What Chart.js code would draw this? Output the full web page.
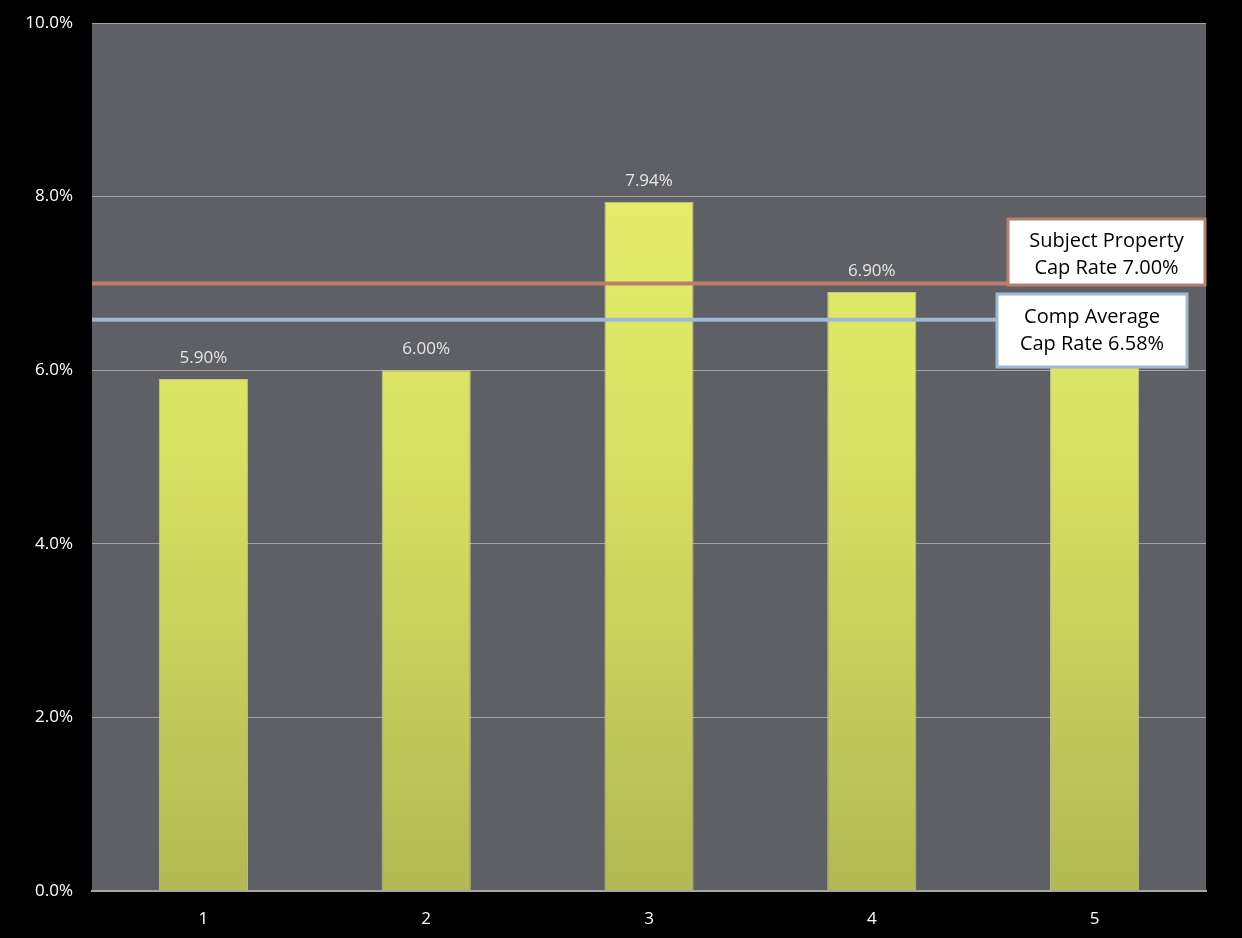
<!DOCTYPE html>
<html>
<head>
<meta charset="utf-8">
<script src="https://cdn.jsdelivr.net/npm/chart.js@4.4.1/dist/chart.umd.min.js"></script>
<style>
  html, body { margin: 0; padding: 0; background: #000; }
  #wrap { width: 1242px; height: 938px; }
</style>
</head>
<body>
<div id="wrap"><canvas id="capChart" width="1242" height="938"></canvas></div>
<script>
// ---- data ----
const comps = ['1', '2', '3', '4', '5'];
const capRates = [5.90, 6.00, 7.94, 6.90, 6.16];
const yTicks = [0, 2, 4, 6, 8, 10];
const subjectRate = 7.00;
const compAverage = 6.58;
const subjectLabel = ['Subject Property', 'Cap Rate 7.00%'];
const averageLabel = ['Comp Average', 'Cap Rate 6.58%'];

const FONT = '"Open Sans", "Liberation Sans", sans-serif';

// gray plot background + black canvas
const backdrop = {
    id: 'backdrop',
    beforeDraw(chart) {
        const { ctx, chartArea: a } = chart;
        ctx.save();
        ctx.fillStyle = '#000';
        ctx.fillRect(0, 0, chart.width, chart.height);
        ctx.fillStyle = '#5f6066';
        ctx.fillRect(a.left, a.top, a.right - a.left, a.bottom - a.top);
        ctx.restore();
    }
};

// value labels above bars
const valueLabels = {
    id: 'valueLabels',
    afterDatasetsDraw(chart) {
        const { ctx } = chart;
        const meta = chart.getDatasetMeta(0);
        ctx.save();
        ctx.fillStyle = '#e6e6e6';
        ctx.font = '17px ' + FONT;
        ctx.textAlign = 'center';
        ctx.textBaseline = 'middle';
        meta.data.forEach((bar, i) => {
            ctx.fillText(capRates[i].toFixed(2) + '%', bar.x, bar.y - 21);
        });
        ctx.restore();
    }
};

// reference lines + callout boxes
function callout(ctx, x, y, w, h, border, lines, y1, y2) {
    ctx.fillStyle = '#fff';
    ctx.fillRect(x, y, w, h);
    ctx.strokeStyle = border;
    ctx.lineWidth = 3;
    ctx.strokeRect(x, y, w, h);
    ctx.fillStyle = '#000';
    ctx.font = '20px ' + FONT;
    ctx.textAlign = 'center';
    ctx.textBaseline = 'middle';
    ctx.fillText(lines[0], x + w / 2, y1);
    ctx.fillText(lines[1], x + w / 2, y2);
}

const refLines = {
    id: 'refLines',
    afterDraw(chart) {
        const { ctx, chartArea: a, scales: { y } } = chart;
        const ySub = y.getPixelForValue(subjectRate);
        const yAvg = y.getPixelForValue(compAverage);
        ctx.save();
        ctx.lineWidth = 4;
        ctx.strokeStyle = '#b97f6c';
        ctx.beginPath();
        ctx.moveTo(a.left, ySub);
        ctx.lineTo(1008, ySub);
        ctx.stroke();
        ctx.strokeStyle = '#9db8d3';
        ctx.beginPath();
        ctx.moveTo(a.left, yAvg);
        ctx.lineTo(997, yAvg);
        ctx.stroke();
        callout(ctx, 1008, 219, 197, 66, '#b97f6c', subjectLabel, 241, 268);
        callout(ctx, 997, 294, 190, 73, '#9db8d3', averageLabel, 317, 344);
        ctx.restore();
    }
};

const ctx = document.getElementById('capChart').getContext('2d');
new Chart(ctx, {
    type: 'bar',
    data: {
        labels: comps,
        datasets: [{
            data: capRates,
            backgroundColor: (c) => {
                const area = c.chart.chartArea;
                if (!area) return '#d8e060';
                const g = c.chart.ctx.createLinearGradient(0, area.top, 0, area.bottom);
                g.addColorStop(0, '#ecf56f');
                g.addColorStop(0.5, '#d8e062');
                g.addColorStop(1, '#b3b953');
                return g;
            },
            borderColor: 'rgba(235,240,160,0.7)',
            borderWidth: 1,
            barPercentage: 0.8,
            categoryPercentage: 0.5
        }]
    },
    options: {
        responsive: false,
        animation: false,
        layout: { padding: { left: 0, top: 23, right: 36, bottom: 0 } },
        plugins: {
            legend: { display: false },
            tooltip: { enabled: false }
        },
        scales: {
            x: {
                grid: { display: false },
                border: { color: '#a6a6a6', width: 2 },
                ticks: { color: '#fff', font: { family: FONT, size: 17 }, padding: 10 },
                afterFit(scale) { scale.height = 47; }
            },
            y: {
                min: 0,
                max: 10,
                afterBuildTicks(scale) { scale.ticks = yTicks.map(v => ({ value: v })); },
                grid: { color: '#a3a3a3', lineWidth: 1, drawTicks: false },
                border: { display: false },
                ticks: {
                    color: '#fff',
                    font: { family: FONT, size: 17 },
                    padding: 19,
                    callback: (v) => v.toFixed(1) + '%'
                },
                afterFit(scale) {
                    scale.width = 92;
                    scale.paddingTop = 0;
                    scale.paddingBottom = 0;
                }
            }
        }
    },
    plugins: [backdrop, valueLabels, refLines]
});
</script>
</body>
</html>
